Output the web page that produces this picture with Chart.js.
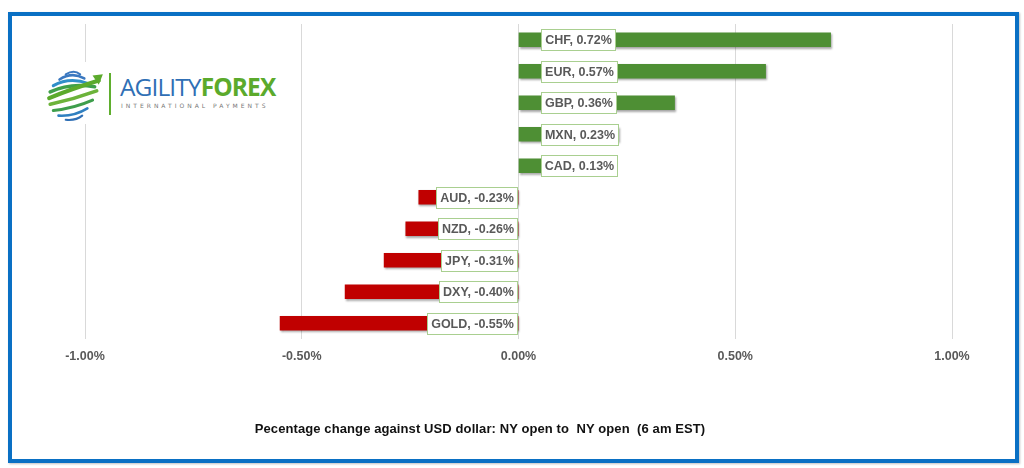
<!DOCTYPE html>
<html>
<head>
<meta charset="utf-8">
<script src="https://cdn.jsdelivr.net/npm/chart.js@4/dist/chart.umd.min.js"></script>
<style>
  html, body { margin: 0; padding: 0; background: #fff; }
  #wrap { position: relative; width: 1024px; height: 468px; overflow: hidden; }
  #frame { position: absolute; left: 8px; top: 12px; width: 1011px; height: 451px; box-sizing: border-box;
           border: 4px solid #0A70C4; box-shadow: 1px 1px 2px rgba(0,0,0,0.25); }
  canvas { position: absolute; left: 0; top: 0; }
  #logo { position: absolute; left: 40px; top: 62px; width: 250px; height: 62px; background: #fff; }
  #logo svg { position: absolute; left: 3px; top: 4px; }
  #bar { position: absolute; left: 69px; top: 11px; width: 2px; height: 42px; background: #5FAE2E; }
  #brand { position: absolute; left: 80px; top: 11px; font-family: "Open Sans", sans-serif; font-size: 24.5px; line-height: 28px; letter-spacing: -0.9px; white-space: nowrap; }
  #brand .a { color: #2F6FB5; font-weight: 400; }
  #brand .f { color: #5BAA2C; font-weight: 700; }
  #sub { position: absolute; left: 81px; top: 40px; font-family: "DejaVu Sans", sans-serif; font-size: 6px; letter-spacing: 3.0px; color: #777; white-space: nowrap; }
  #caption { position: absolute; left: 0; width: 960px; top: 421px; text-align: center; font-family: "Liberation Sans", sans-serif; font-weight: bold; font-size: 13px; color: #111; white-space: pre; letter-spacing: 0.1px; }
</style>
</head>
<body>
<div id="wrap">
  <canvas id="c" width="1024" height="468"></canvas>
  <div id="frame"></div>
  <div id="logo">
    <svg width="64" height="58" viewBox="0 0 62 56">
      <g fill="none" stroke-linecap="round">
        <path d="M22 8 Q30 3 36 8" stroke="#3A78C0" stroke-width="2"/>
        <path d="M16 13 Q28 5 40 12" stroke="#3A78C0" stroke-width="2.5"/>
        <path d="M10 19 Q26 10 44 17" stroke="#2F8FC9" stroke-width="3"/>
        <path d="M7 25 Q26 16 50 20" stroke="#3FA04A" stroke-width="3.5"/>
        <path d="M6 31 Q28 22 54 14" stroke="#5BAA2C" stroke-width="4"/>
        <path d="M7 37 Q30 32 52 24" stroke="#6CB33A" stroke-width="3.5"/>
        <path d="M10 43 Q30 41 48 33" stroke="#3E9E4C" stroke-width="3"/>
        <path d="M15 48 Q30 49 43 41" stroke="#2F7FC0" stroke-width="2.5"/>
        <path d="M22 52 Q32 53 38 48" stroke="#2F6FB5" stroke-width="2"/>
      </g>
      <path d="M48 9 L58 8 L54 18 Z" fill="#5BAA2C"/>
    </svg>
    <div id="bar"></div>
    <div id="brand"><span class="a">AGILITY</span><span class="f">FOREX</span></div>
    <div id="sub">INTERNATIONAL PAYMENTS</div>
  </div>
  <div id="caption">Pecentage change against USD dollar: NY open to  NY open  (6 am EST)</div>
</div>
<script>
const categories = ['CHF', 'EUR', 'GBP', 'MXN', 'CAD', 'AUD', 'NZD', 'JPY', 'DXY', 'GOLD'];
const changes = [0.72, 0.57, 0.36, 0.23, 0.13, -0.23, -0.26, -0.31, -0.40, -0.55];
const tickValues = [-1, -0.5, 0, 0.5, 1];

const GREEN = '#4E8F34';
const RED = '#C00000';
const LABEL_FONT = 'bold 12.5px "Liberation Sans", sans-serif';

const shadowPlugin = {
  id: 'barShadow',
  beforeDatasetsDraw(chart) {
    const ctx = chart.ctx;
    ctx.save();
    ctx.shadowColor = 'rgba(0,0,0,0.35)';
    ctx.shadowBlur = 2;
    ctx.shadowOffsetX = 1;
    ctx.shadowOffsetY = 1.5;
  },
  afterDatasetsDraw(chart) { chart.ctx.restore(); }
};

const labelPlugin = {
  id: 'boxLabels',
  afterDatasetsDraw(chart) {
    const ctx = chart.ctx;
    const meta = chart.getDatasetMeta(0);
    ctx.save();
    ctx.font = LABEL_FONT;
    ctx.textBaseline = 'middle';
    ctx.textAlign = 'center';
    meta.data.forEach((bar, i) => {
      const v = changes[i];
      const text = categories[i] + ', ' + v.toFixed(2) + '%';
      const w = Math.round(ctx.measureText(text).width + 7);
      const h = 21;
      const base = bar.base;
      const left = Math.round(v >= 0 ? base + 22 : base - 1.5 - w) + 0.5;
      const top = Math.round(bar.y - h / 2) + 0.5;
      ctx.fillStyle = '#fff';
      ctx.fillRect(left, top, w, h);
      ctx.strokeStyle = '#A9CF90';
      ctx.lineWidth = 1;
      ctx.strokeRect(left, top, w, h);
      ctx.fillStyle = '#595959';
      ctx.fillText(text, left + w / 2, bar.y + 1);
    });
    ctx.restore();
  }
};

new Chart(document.getElementById('c'), {
  type: 'bar',
  data: {
    labels: categories,
    datasets: [{
      data: changes,
      backgroundColor: changes.map(v => v >= 0 ? GREEN : RED),
      barThickness: 14,
      borderWidth: 0
    }]
  },
  options: {
    indexAxis: 'y',
    responsive: false,
    animation: false,
    devicePixelRatio: 1,
    layout: { padding: { left: 85, right: 72, top: 24, bottom: 94 } },
    plugins: { legend: { display: false }, tooltip: { enabled: false }, title: { display: false } },
    scales: {
      x: {
        min: -1, max: 1,
        afterBuildTicks(axis) { axis.ticks = tickValues.map(v => ({ value: v })); },
        ticks: {
          padding: 10,
          color: '#595959',
          font: { family: '"Liberation Sans", sans-serif', size: 12.5, weight: 'bold' },
          callback: v => v.toFixed(2) + '%',
          maxRotation: 0
        },
        grid: { color: '#D9D9D9', drawTicks: false, lineWidth: 1 },
        border: { display: false }
      },
      y: { display: false }
    }
  },
  plugins: [shadowPlugin, labelPlugin]
});
</script>
</body>
</html>
